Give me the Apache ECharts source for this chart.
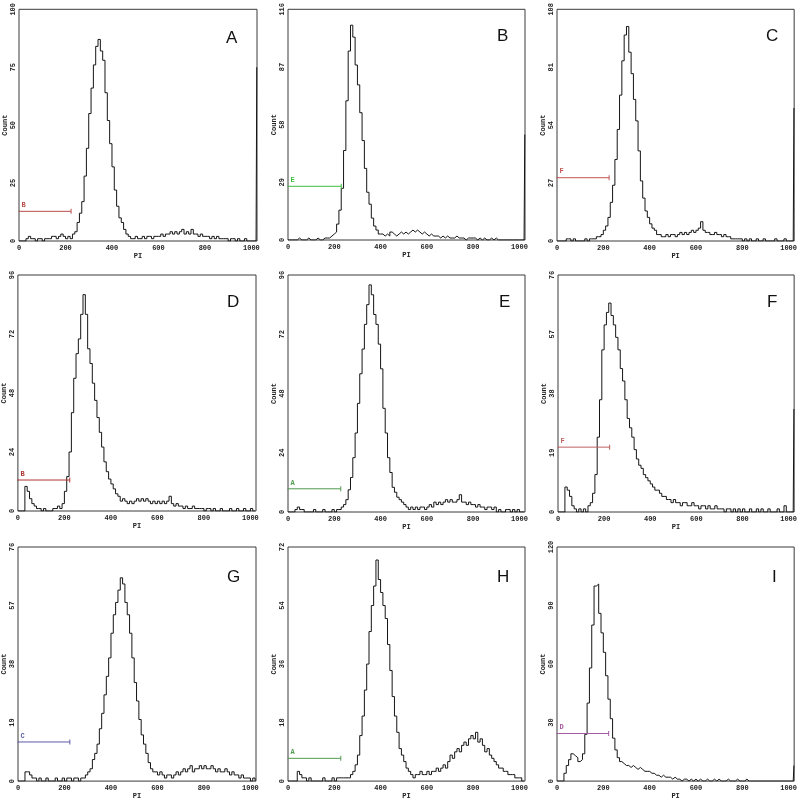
<!DOCTYPE html>
<html><head><meta charset="utf-8">
<script src="https://cdn.jsdelivr.net/npm/echarts@6/dist/echarts.min.js"></script>
<style>html,body{margin:0;padding:0;background:#fff}#c{width:800px;height:801px}</style>
</head><body><div id="c"></div>
<script>
// ---------- DATA ----------
const BIN_WIDTH = 10; // channels per bin, bins start at 0,10,...,1020
const countsA = [0,0,0,1,2,1,1,0,1,1, 0,1,1,1,2,2,1,2,3,2, 1,2,1,3,4,8,12,17,28,40, 55,66,76,84,87,82,78,64,52,42, 32,22,15,10,8,5,3,2,1,1, 2,1,1,2,1,2,2,1,2,2, 2,3,2,3,3,4,3,4,3,4, 5,3,4,3,5,3,3,2,3,2, 2,2,1,2,1,2,1,1,1,1, 0,1,1,0,1,0,0,1,0,0, 0,0,0];
const countsB = [0,0,0,0,1,0,0,0,1,0, 0,0,1,0,0,1,1,1,2,3, 4,8,15,26,45,70,95,108,102,88, 78,64,50,36,24,18,11,7,5,3, 3,2,3,2,4,3,2,3,4,3, 4,3,4,5,4,5,4,3,4,3, 2,3,2,2,2,1,2,1,2,1, 1,1,2,1,1,1,0,1,1,1, 1,0,1,0,1,0,0,1,0,1, 0,0,0,0,0,0,0,0,0,0, 0,0,0];
const countsC = [0,0,0,0,1,1,0,1,0,0, 0,0,1,0,1,1,1,2,2,3, 5,7,11,18,26,38,52,68,84,96, 100,88,78,66,56,42,28,20,14,11, 8,6,5,3,3,2,2,3,2,3, 3,2,3,4,3,4,3,4,5,4, 5,6,9,5,4,4,3,3,4,3, 3,2,3,2,2,1,1,1,1,1, 0,1,0,1,0,0,1,0,0,1, 0,0,0,0,1,0,0,0,1,0, 0,0,0];
const countsD = [0,0,0,10,8,5,3,2,1,1, 0,1,0,0,0,1,1,2,1,3, 8,14,24,40,54,64,70,80,88,80, 66,60,52,45,38,32,26,20,16,13, 11,9,7,6,4,5,4,3,4,3, 4,5,4,5,4,5,4,3,4,3, 4,3,4,3,4,6,3,2,3,2, 2,1,2,1,1,2,1,1,1,1, 0,1,1,0,1,0,0,1,0,0, 0,1,0,0,1,0,0,1,0,0, 1,0,0];
const countsE = [0,0,0,1,2,1,1,0,0,0, 0,1,0,0,0,1,0,0,0,1, 0,1,1,2,3,5,9,14,22,32, 44,56,66,76,84,92,88,80,76,68, 58,42,32,22,16,10,8,6,5,4, 3,2,1,2,1,2,1,2,2,1, 2,3,2,4,3,4,3,4,5,4, 5,4,4,5,7,4,4,3,4,3, 3,2,3,2,2,1,2,2,1,2, 0,1,0,0,1,1,0,1,0,1, 0,0,0];
const countsF = [0,0,0,8,7,5,2,1,0,1, 0,1,0,2,3,6,12,24,36,52, 60,64,67,63,60,56,52,46,42,36, 30,27,24,20,17,15,14,12,11,10, 9,8,7,7,6,5,5,4,4,3, 4,3,3,2,3,3,2,2,3,2, 2,1,2,2,1,2,1,1,2,1, 1,1,0,1,1,0,1,0,1,0, 1,0,0,1,0,0,1,0,1,0, 0,1,0,0,0,1,0,0,2,0, 0,0,0];
const countsG = [0,0,0,3,3,2,1,1,0,1, 0,0,1,0,0,0,1,0,0,1, 0,1,1,0,1,1,0,1,1,2, 3,4,7,9,12,17,22,28,34,40, 48,54,58,62,66,64,58,54,48,40, 32,26,20,15,12,9,6,4,3,3, 2,3,2,1,2,2,1,2,3,2, 3,4,3,4,5,3,4,4,5,4, 5,4,4,5,4,3,4,3,3,4, 3,2,3,2,2,1,2,1,1,1, 0,1,0];
const countsH = [0,0,0,0,3,2,1,1,0,1, 0,0,0,0,0,1,0,0,0,1, 0,1,1,1,1,1,1,2,3,5, 8,14,20,28,36,46,54,60,68,62, 58,54,50,42,34,26,20,15,10,8, 6,4,3,2,1,2,2,3,2,2, 3,2,3,3,4,3,4,5,4,6, 8,7,9,10,9,11,12,11,13,14, 13,15,12,13,11,9,10,8,7,6, 5,4,4,3,3,2,2,2,1,1, 1,0,0];
const countsI = [0,0,0,4,8,11,14,13,12,10, 11,14,24,40,58,80,100,101,86,76, 66,54,42,32,22,16,12,10,9,8, 8,7,8,7,6,7,6,5,5,5, 4,4,3,3,2,3,2,2,2,1, 2,1,1,0,1,1,0,1,0,1, 0,1,0,0,1,0,0,1,0,1, 0,0,0,1,0,0,0,1,0,0, 0,1,0,0,0,0,0,0,0,0, 0,0,0,0,0,0,0,0,0,0, 0,0,0];
const lastChannelCounts = [75, 53, 62, 0, 0, 33, 0, 0, 8]; // pile-up in channel 1023
const panelLetters = ['A','B','C','D','E','F','G','H','I'];
const yMax  = [100, 116, 108, 96, 96, 76, 76, 72, 120];
const yStep = [25, 29, 27, 24, 24, 19, 19, 18, 30];
const xMax = 1024, xStep = 200;
const gateLabels = ['B','E','F','B','A','F','C','A','D'];
const gateLevels = [12.8, 27, 29.5, 12.6, 9.4, 20.8, 12.7, 7, 24.4];
const gateEnds   = [224, 230, 225, 223, 228, 224, 223, 228, 223];
const xAxisTitle = 'PI', yAxisTitle = 'Count';

// ---------- LAYOUT / STYLE ----------
const gridBoxes = [
  [19,4,238,237],[288,5,237,235],[557,5,238,236],
  [17,275,239,236],[288,275,237,237],[558,275,237,237],
  [18,547,238,235],[288,547,237,235],[557,547,238,235]];
const gateColors = ['#b84e4e','#3fbf3f','#c05454','#b03434','#4f9a4f','#c06060','#5a5aa6','#4f9a4f','#a35aa3'];
const letterPos = [[226,30],[497,28],[766,28],[227,294],[499,294],[767,294],[227,569],[497,569],[772,569]];

const allCounts = [countsA,countsB,countsC,countsD,countsE,countsF,countsG,countsH,countsI];
const tickFont = {fontSize:7, fontFamily:'Liberation Mono', fontWeight:'bold', color:'#222'};
const grids=[], xAxes=[], yAxes=[], series=[], titles=[];
allCounts.forEach((counts,i)=>{
  const [l,t,w,h] = gridBoxes[i];
  grids.push({left:l, top:t, width:w, height:h, show:true, borderColor:'#3a3a3a', borderWidth:1});
  xAxes.push({gridIndex:i, type:'value', min:0, max:xMax, interval:xStep,
    name:xAxisTitle, nameLocation:'middle', nameGap:10, nameTextStyle:tickFont,
    axisLine:{show:false}, axisTick:{show:false}, splitLine:{show:false},
    axisLabel:Object.assign({margin:4, formatter:v=> (v%xStep===0 ? String(v) : '')}, tickFont)});
  yAxes.push({gridIndex:i, type:'value', min:0, max:yMax[i], interval:yStep[i],
    name:yAxisTitle, nameLocation:'middle', nameGap:8, nameRotate:90, nameTextStyle:tickFont,
    axisLine:{show:false}, axisTick:{show:false}, splitLine:{show:false},
    axisLabel:Object.assign({margin:2, rotate:90}, tickFont)});
  const pts = counts.map((c,k)=>[k*BIN_WIDTH, c]);
  pts.push([1023, lastChannelCounts[i]]);
  series.push({type:'line', xAxisIndex:i, yAxisIndex:i, data:pts, step:'end', symbol:'none',
    lineStyle:{color:'#151515', width:1}, silent:true});
  series.push({type:'line', xAxisIndex:i, yAxisIndex:i, showSymbol:true, silent:true,
    lineStyle:{color:gateColors[i], width:1}, itemStyle:{color:gateColors[i]},
    data:[
      {value:[0,gateLevels[i]], symbol:'rect', symbolSize:[1,1],
        label:{show:true, position:[3,-9], formatter:gateLabels[i], fontSize:7, fontFamily:'Liberation Mono', fontWeight:'bold', color:gateColors[i]}},
      {value:[gateEnds[i],gateLevels[i]], symbol:'rect', symbolSize:[1,5]}
    ]});
  titles.push({text:panelLetters[i], left:letterPos[i][0], top:letterPos[i][1], padding:0,
    textStyle:{fontSize:17, fontWeight:'normal', color:'#111', fontFamily:'Liberation Sans'}});
});

const chart = echarts.init(document.getElementById('c'), null, {renderer:'canvas'});
chart.setOption({animation:false, backgroundColor:'#fff', title:titles, grid:grids, xAxis:xAxes, yAxis:yAxes, series:series});
</script></body></html>
